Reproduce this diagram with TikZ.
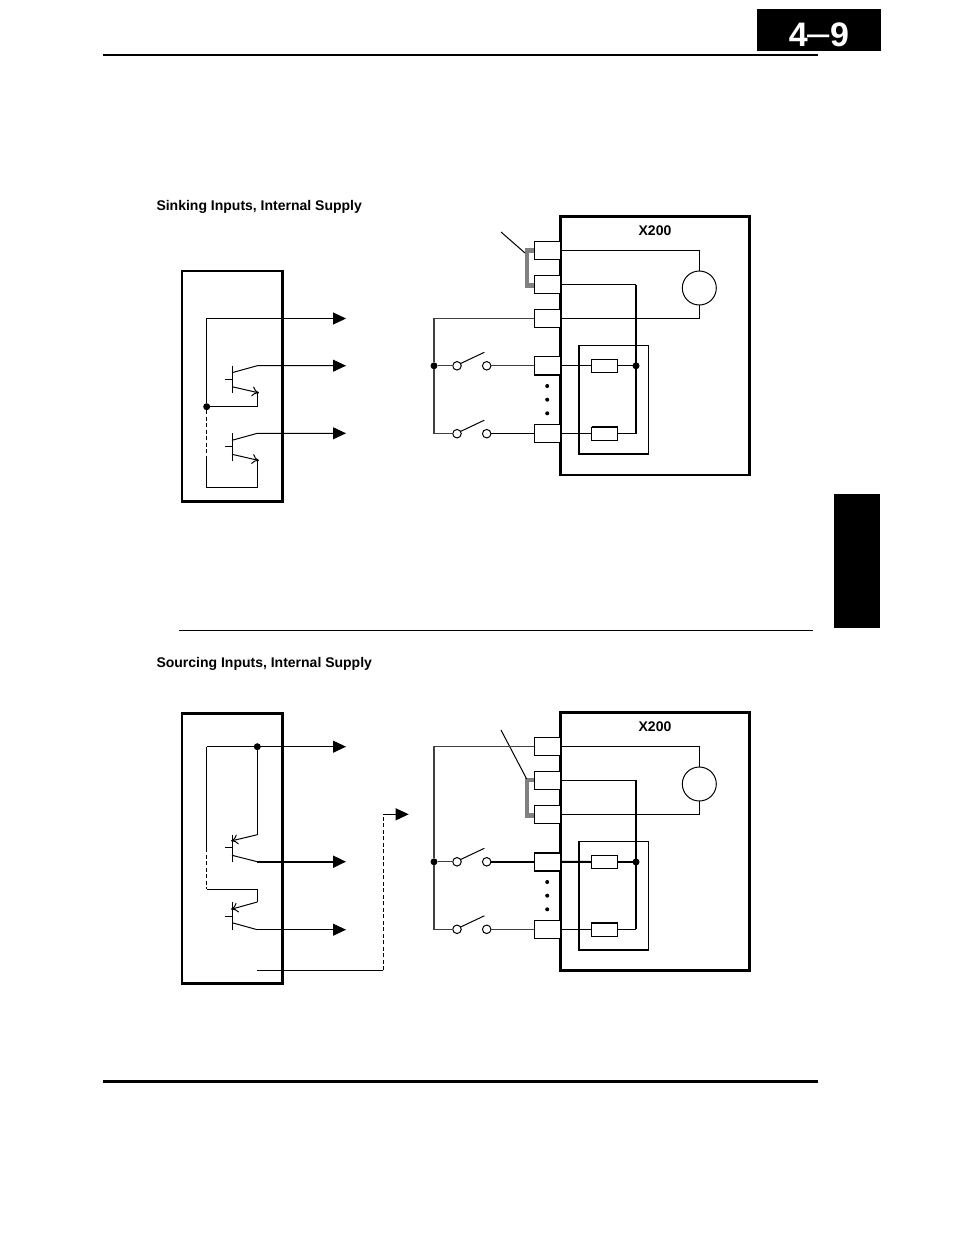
\documentclass[tikz,border=0pt]{standalone}
\usepackage{fontspec}
\setmainfont{Liberation Sans}
\usetikzlibrary{arrows.meta}

% left edge of the inner parts, shared by both drawings
\def\Qx{232}
\def\Ex{257.3}
\def\Gx{206.7}
\def\Lx{434}
\def\Jx{527}
\def\Tx{547.2}
\def\Rx{604.7}
\def\Bx{636}
\def\Mx{699.3}
\def\Sx{457}
\def\Zx{486.7}
\def\Ax{346}

\begin{document}
\begin{tikzpicture}[x=1pt, y=-1pt, line width=1pt,
    heavy/.style={line width=2.7pt},
    busw/.style={line width=2pt},
    feed/.style={line width=1.3pt, black!75},
    jumper/.style={line width=4.2pt, black!50, line join=miter},
    sigline/.style={-{Triangle[length=13pt, width=12pt]}},
    barb/.style={-{To[length=7pt, width=10pt]}},
    term/.style={draw, fill=white, minimum width=25.7pt, minimum height=18pt, inner sep=0pt, outer sep=0pt},
    res/.style={draw, fill=white, minimum width=26pt, minimum height=13.4pt, inner sep=0pt, outer sep=0pt},
    contact/.style={draw, fill=white, circle, minimum size=8.5pt, inner sep=0pt, outer sep=0pt},
    motor/.style={draw, fill=white, circle, minimum size=34pt, inner sep=0pt, outer sep=0pt},
    dot/.style={fill=black, circle, minimum size=7pt, inner sep=0pt, outer sep=0pt},
    pip/.style={fill=black, circle, minimum size=4pt, inner sep=0pt},
    unitbox/.style={draw, heavy, minimum width=189.5pt, minimum height=258.3pt, inner sep=0pt, outer sep=0pt},
    plc/.style={draw, heavy, minimum width=100.5pt, inner sep=0pt, outer sep=0pt},
    inbox/.style={draw, minimum width=69.3pt, minimum height=108.7pt, inner sep=0pt, outer sep=0pt},
    heading/.style={font=\fontsize{14}{16}\selectfont\bfseries, anchor=base west, inner sep=0pt},
    model/.style={font=\fontsize{14}{16}\selectfont\bfseries, inner sep=0pt}]
    \useasboundingbox (0,0) rectangle (954,1235);

    % page furniture
    \node[fill=black, minimum width=124pt, minimum height=42pt, inner sep=0pt] (tab) at (819,30) {};
    \node[text=white, font=\fontsize{34}{40}\selectfont\bfseries, inner sep=0pt, anchor=base] (page) at (819,46) {4{\mdseries\fontsize{40}{40}\selectfont –}9};
    \node[fill=black, minimum width=46pt, minimum height=134pt, inner sep=0pt] (side) at (857,561) {};
    \coordinate (headL) at (103,55);
    \coordinate (headR) at (818,55);
    \coordinate (midL) at (179,630.5);
    \coordinate (midR) at (813,630.5);
    \coordinate (footL) at (103,1081.5);
    \coordinate (footR) at (818,1081.5);
    \draw[busw] (headL) -- (headR);
    \draw[line width=0.8pt] (midL) -- (midR);
    \draw[heavy] (footL) -- (footR);
    \node[heading] (titleA) at (156,210) {Sinking Inputs, Internal Supply};
    \node[heading] (titleB) at (156,667) {Sourcing Inputs, Internal Supply};

    % sinking, output unit
    \node[plc, minimum height=230.7pt] (plcA) at (232.2,386.3) {};
    \node[dot] (dotA) at (\Gx,406.7) {};
    \coordinate (comA) at (\Ax,318.5);
    \coordinate (outA1) at (\Ax,365.7);
    \coordinate (outA2) at (\Ax,433.3);
    \coordinate (qA1) at (\Qx,379.3);
    \coordinate (qA2) at (\Qx,446.9);
    \coordinate (eA1) at (\Ex,392.7);
    \coordinate (eA2) at (\Ex,460.3);
    \coordinate (dashA) at (\Gx,457);
    \coordinate (backA) at (\Gx,487.7);
    \draw[sigline] (dotA) |- (comA);
    \draw (dotA) -| (eA1);
    \draw[dashed, dash pattern=on 4pt off 2.5pt] (dotA) -- (dashA);
    \draw (dashA) -- (backA) -| (eA2);
    \draw (qA1) ++(-7,0) -- ++(7,0) ++(0,-13.6) -- ++(0,27.6);
    \draw (qA2) ++(-7,0) -- ++(7,0) ++(0,-13.6) -- ++(0,27.6);
    \draw[sigline] (qA1) ++(0,-6.6) -- (\Ex,365.7) -- (outA1);
    \draw[sigline] (qA2) ++(0,-6.6) -- (\Ex,433.3) -- (outA2);
    \draw[barb] (qA1) ++(0,7.4) -- (259,392.9);
    \draw[barb] (qA2) ++(0,7.4) -- (259,460.5);

    % sinking, X200
    \node[unitbox] (unitA) at (655,345.8) {};
    \node[model] (modelA) at (655,230.5) {X200};
    \node[term] (tA1) at (\Tx,250.5) {};
    \node[term] (tA2) at (\Tx,284.6) {};
    \node[term] (tA3) at (\Tx,318.6) {};
    \node[term] (tA4) at (\Tx,365.8) {};
    \node[term] (tA5) at (\Tx,433.7) {};
    \draw[busw] (tA4.south west) -- (tA4.south east);
    \node[motor] (motorA) at (\Mx,288) {};
    \node[inbox] (boxA) at (613.6,399.7) {};
    \draw[busw] (boxA.north west) |- (boxA.south east);
    \node[res] (rA1) at (\Rx,365.8) {};
    \node[res] (rA2) at (\Rx,433.7) {};
    \draw[busw] (rA2.north west) -- (rA2.north east);
    \node[dot] (busA) at (\Bx,365.8) {};
    \coordinate (jumpA1) at (\Jx,250.5);
    \coordinate (jumpA2) at (\Jx,285.5);
    \coordinate (leadA1) at (501,232);
    \coordinate (leadA2) at (525,253);
    \coordinate (cornerA) at (\Bx,284.6);
    \coordinate (endA) at (\Bx,433.7);
    \draw[jumper] (tA1.west) -- (jumpA1) -- (jumpA2) -- (tA2.west |- jumpA2);
    \draw (leadA1) -- (leadA2);
    \draw (tA1.east) -| (motorA.north);
    \draw (tA3.east) -| (motorA.south);
    \draw (tA2.east) -- (cornerA);
    \draw[busw] (cornerA) -- (endA);
    \draw (rA2.east) -- (endA);
    \draw (tA4.east) -- (rA1.west);
    \draw (tA5.east) -- (rA2.west);
    \draw (rA1.east) -- (busA);
    \node[pip] (pipA1) at (\Tx,386) {};
    \node[pip] (pipA2) at (\Tx,399.7) {};
    \node[pip] (pipA3) at (\Tx,413.3) {};
    \node[dot] (feedA) at (\Lx,365.8) {};
    \node[contact] (sA1) at (\Sx,365.8) {};
    \node[contact] (zA1) at (\Zx,365.8) {};
    \node[contact] (sA2) at (\Sx,433.7) {};
    \node[contact] (zA2) at (\Zx,433.7) {};
    \coordinate (bladeA1) at (484.3,352.3);
    \coordinate (bladeA2) at (484.3,420.2);
    \draw[feed] (tA3.west) -| (feedA);
    \draw[feed] (feedA) |- (sA2.west);
    \draw[feed] (feedA) -- (sA1.west);
    \draw[feed] (zA1.east) -- (tA4.west);
    \draw (zA2.east) -- (tA5.west);
    \draw (sA1) ++(3.4,-2.2) -- (bladeA1);
    \draw (sA2) ++(3.4,-2.2) -- (bladeA2);

    % sourcing, output unit
    \node[plc, minimum height=270.4pt] (plcB) at (232.2,848.5) {};
    \node[dot] (dotB) at (\Ex,746.7) {};
    \coordinate (comB) at (\Ax,746.7);
    \coordinate (outB1) at (\Ax,861.7);
    \coordinate (outB2) at (\Ax,929.7);
    \coordinate (qB1) at (\Qx,847.7);
    \coordinate (qB2) at (\Qx,916);
    \coordinate (eB1) at (\Ex,834.7);
    \coordinate (eB2) at (\Ex,902);
    \coordinate (topB) at (\Gx,746.7);
    \coordinate (dashB1) at (\Gx,848);
    \coordinate (dashB2) at (\Gx,889.3);
    \coordinate (stubB) at (\Ex,970.3);
    \coordinate (riseB) at (383.3,970.3);
    \coordinate (kneeB) at (383.3,814.3);
    \coordinate (tipB) at (408.7,814.3);
    \draw[sigline] (topB) -- (comB);
    \draw (topB) -- (dashB1);
    \draw[dashed, dash pattern=on 4pt off 2.5pt] (dashB1) -- (dashB2);
    \draw (dashB2) -| (eB2);
    \draw (dotB) -- (eB1);
    \draw (qB1) ++(-7,0) -- ++(7,0) ++(0,-13.2) -- ++(0,27.6);
    \draw (qB2) ++(-7,0) -- ++(7,0) ++(0,-13.7) -- ++(0,27.6);
    \draw (qB1) ++(0,7.6) -- (\Ex,861.7);
    \draw (qB2) ++(0,6.7) -- (\Ex,929.7);
    \draw[sigline, busw] (\Ex,861.7) -- (outB1);
    \draw[sigline] (\Ex,929.7) -- (outB2);
    \draw[barb] (eB1) -- (231,841);
    \draw[barb] (eB2) -- (231,909.3);
    \draw (stubB) -- (riseB);
    \draw[dashed, dash pattern=on 4pt off 2.5pt] (riseB) -- (kneeB);
    \draw[sigline] (kneeB) -- (tipB);

    % sourcing, X200
    \node[unitbox] (unitB) at (655,841.5) {};
    \node[model] (modelB) at (655,726.5) {X200};
    \node[term] (tB1) at (\Tx,746.3) {};
    \node[term] (tB2) at (\Tx,780.3) {};
    \node[term] (tB3) at (\Tx,814.3) {};
    \node[term] (tB4) at (\Tx,861.8) {};
    \node[term] (tB5) at (\Tx,929.3) {};
    \draw[busw] (tB4.north west) -- (tB4.north east);
    \draw[busw] (tB4.south west) -- (tB4.south east);
    \node[motor] (motorB) at (\Mx,784) {};
    \node[inbox] (boxB) at (613.6,895.7) {};
    \draw[busw] (boxB.north west) |- (boxB.south east);
    \node[res] (rB1) at (\Rx,862) {};
    \node[res] (rB2) at (\Rx,929.3) {};
    \draw[busw] (rB2.north west) -- (rB2.north east);
    \node[dot] (busB) at (\Bx,862) {};
    \coordinate (jumpB1) at (\Jx,780.3);
    \coordinate (jumpB2) at (\Jx,815.5);
    \coordinate (leadB1) at (501,730);
    \coordinate (leadB2) at (526.7,779);
    \coordinate (cornerB) at (\Bx,780.3);
    \coordinate (endB) at (\Bx,929.3);
    \draw[jumper] (tB2.west) -- (jumpB1) -- (jumpB2) -- (tB3.west |- jumpB2);
    \draw (leadB1) -- (leadB2);
    \draw (tB1.east) -| (motorB.north);
    \draw (tB3.east) -| (motorB.south);
    \draw (tB2.east) -- (cornerB);
    \draw[busw] (cornerB) -- (endB);
    \draw (rB2.east) -- (endB);
    \draw[busw] (tB4.east) -- (rB1.west);
    \draw (tB5.east) -- (rB2.west);
    \draw[busw] (rB1.east) -- (busB);
    \node[pip] (pipB1) at (\Tx,882) {};
    \node[pip] (pipB2) at (\Tx,895.7) {};
    \node[pip] (pipB3) at (\Tx,909.3) {};
    \node[dot] (feedB) at (\Lx,861.8) {};
    \node[contact] (sB1) at (\Sx,861.8) {};
    \node[contact] (zB1) at (\Zx,861.8) {};
    \node[contact] (sB2) at (\Sx,929.3) {};
    \node[contact] (zB2) at (\Zx,929.3) {};
    \coordinate (bladeB1) at (484.3,848.3);
    \coordinate (bladeB2) at (484.3,915.8);
    \draw[feed] (tB1.west) -| (feedB);
    \draw[feed] (feedB) |- (sB2.west);
    \draw[feed] (feedB) -- (sB1.west);
    \draw[busw] (zB1.east) -- (tB4.west);
    \draw[feed] (zB2.east) -- (tB5.west);
    \draw (sB1) ++(3.4,-2.2) -- (bladeB1);
    \draw (sB2) ++(3.4,-2.2) -- (bladeB2);
\end{tikzpicture}
\end{document}
